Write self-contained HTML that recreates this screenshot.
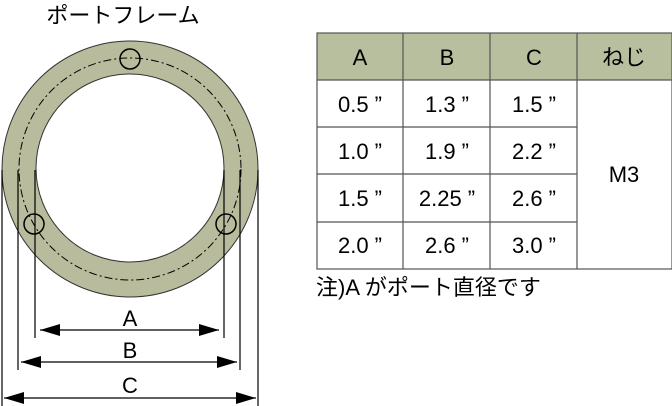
<!DOCTYPE html>
<html><head><meta charset="utf-8"><style>
body{margin:0;width:672px;height:406px;background:#fff;overflow:hidden;font-family:"Liberation Sans","Noto Sans CJK JP",sans-serif}
svg{position:absolute;left:0;top:0}
</style></head><body>
<svg width="672" height="406" viewBox="0 0 672 406" font-family="Liberation Sans, Noto Sans CJK JP, sans-serif">
<defs><marker id="a" markerWidth="20" markerHeight="12" refX="20" refY="6" orient="auto-start-reverse" markerUnits="userSpaceOnUse"><path d="M0,0L20,6L0,12z" fill="#000"/></marker></defs>
<text x="123" y="23" font-size="22" text-anchor="middle">ポートフレーム</text>
<circle cx="130" cy="169" r="128" fill="#b8bc9c" stroke="#333" stroke-width="1"/>
<circle cx="130" cy="168" r="94" fill="#fff" stroke="#333" stroke-width="1"/>
<circle cx="130" cy="169" r="111" fill="none" stroke="#000" stroke-width="1" stroke-dasharray="8,3,2,3"/>
<circle cx="130" cy="59" r="10" fill="none" stroke="#000" stroke-width="1.5"/>
<circle cx="34" cy="224" r="10" fill="none" stroke="#000" stroke-width="1.5"/>
<circle cx="226" cy="224" r="10" fill="none" stroke="#000" stroke-width="1.5"/>
<g stroke="#000" stroke-width="1.2">
<line x1="35" y1="170" x2="35" y2="338"/><line x1="224" y1="170" x2="224" y2="338"/>
<line x1="18" y1="170" x2="18" y2="370"/><line x1="240" y1="170" x2="240" y2="370"/>
<line x1="2" y1="170" x2="2" y2="406"/><line x1="258" y1="170" x2="258" y2="406"/>
<line x1="40" y1="330" x2="219" y2="330" marker-start="url(#a)" marker-end="url(#a)"/>
<line x1="21" y1="362" x2="237" y2="362" marker-start="url(#a)" marker-end="url(#a)"/>
<line x1="4" y1="398" x2="256" y2="398" marker-start="url(#a)" marker-end="url(#a)"/>
</g>
<g font-size="22" text-anchor="middle"><text x="130" y="326">A</text><text x="130" y="358">B</text><text x="130" y="393">C</text></g>
<rect x="317" y="33" width="355" height="47" fill="#b8bf9f"/>
<g stroke="#555" stroke-width="1.2" fill="none">
<rect x="317" y="33" width="355" height="236"/>
<line x1="317" y1="80" x2="672" y2="80"/>
<line x1="317" y1="127" x2="577" y2="127"/><line x1="317" y1="174" x2="577" y2="174"/><line x1="317" y1="222" x2="577" y2="222"/>
<line x1="403" y1="33" x2="403" y2="269"/><line x1="490" y1="33" x2="490" y2="269"/><line x1="577" y1="33" x2="577" y2="269"/>
</g>
<g font-size="22" text-anchor="middle">
<text x="360" y="65">A</text><text x="447" y="65">B</text><text x="534" y="65">C</text><text x="624" y="65">ねじ</text>
<text x="360" y="112">0.5 ”</text><text x="447" y="112">1.3 ”</text><text x="534" y="112">1.5 ”</text>
<text x="360" y="159">1.0 ”</text><text x="447" y="159">1.9 ”</text><text x="534" y="159">2.2 ”</text>
<text x="360" y="206">1.5 ”</text><text x="447" y="206">2.25 ”</text><text x="534" y="206">2.6 ”</text>
<text x="360" y="253">2.0 ”</text><text x="447" y="253">2.6 ”</text><text x="534" y="253">3.0 ”</text>
<text x="624" y="182">M3</text>
</g>
<text x="316" y="295" font-size="22">注)A がポート直径です</text>
</svg>
</body></html>
